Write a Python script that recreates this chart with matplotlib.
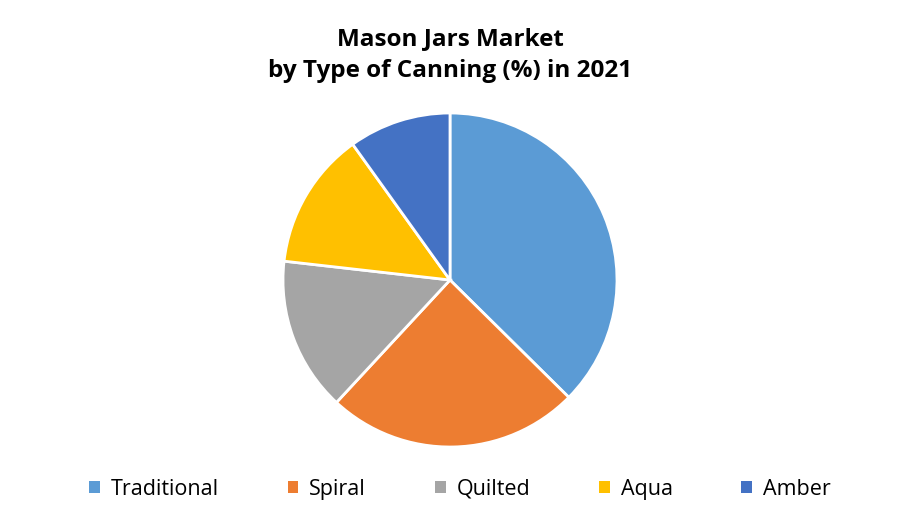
import matplotlib
matplotlib.use("Agg")
import matplotlib.pyplot as plt
from matplotlib.patches import Patch

labels = ["Traditional", "Spiral", "Quilted", "Aqua", "Amber"]
shares = [37.4, 24.5, 14.9, 13.3, 9.9]
colors = ["#5B9BD5", "#ED7D31", "#A5A5A5", "#FFC000", "#4472C4"]

plt.rcParams['font.family'] = ['Open Sans', 'DejaVu Sans']

fig = plt.figure(figsize=(9, 5.25), dpi=100)
# pie centre ~ (450, 280) px, radius ~ 167 px
ax = fig.add_axes([(450 - 167) / 900, 1 - (280 + 167) / 525, 334 / 900, 334 / 525])
ax.pie(shares, colors=colors, startangle=90, counterclock=False,
       wedgeprops={'edgecolor': 'white', 'linewidth': 2})
ax.set_xlim(-1, 1)
ax.set_ylim(-1, 1)
ax.set_aspect('equal')
ax.axis('off')

fig.text(0.5, 0.895, "Mason Jars Market\nby Type of Canning (%) in 2021",
         ha='center', va='center', fontsize=17.5, fontweight='bold',
         linespacing=1.4)

handles = [Patch(facecolor=c, edgecolor='none') for c in colors]
fig.legend(handles, labels, loc='center', bbox_to_anchor=(0.511, 0.068), ncol=5,
           frameon=False, fontsize=15.5, handlelength=0.5, handleheight=0.5,
           handletextpad=0.5, columnspacing=3.2)

plt.savefig('out.png', dpi=100)
